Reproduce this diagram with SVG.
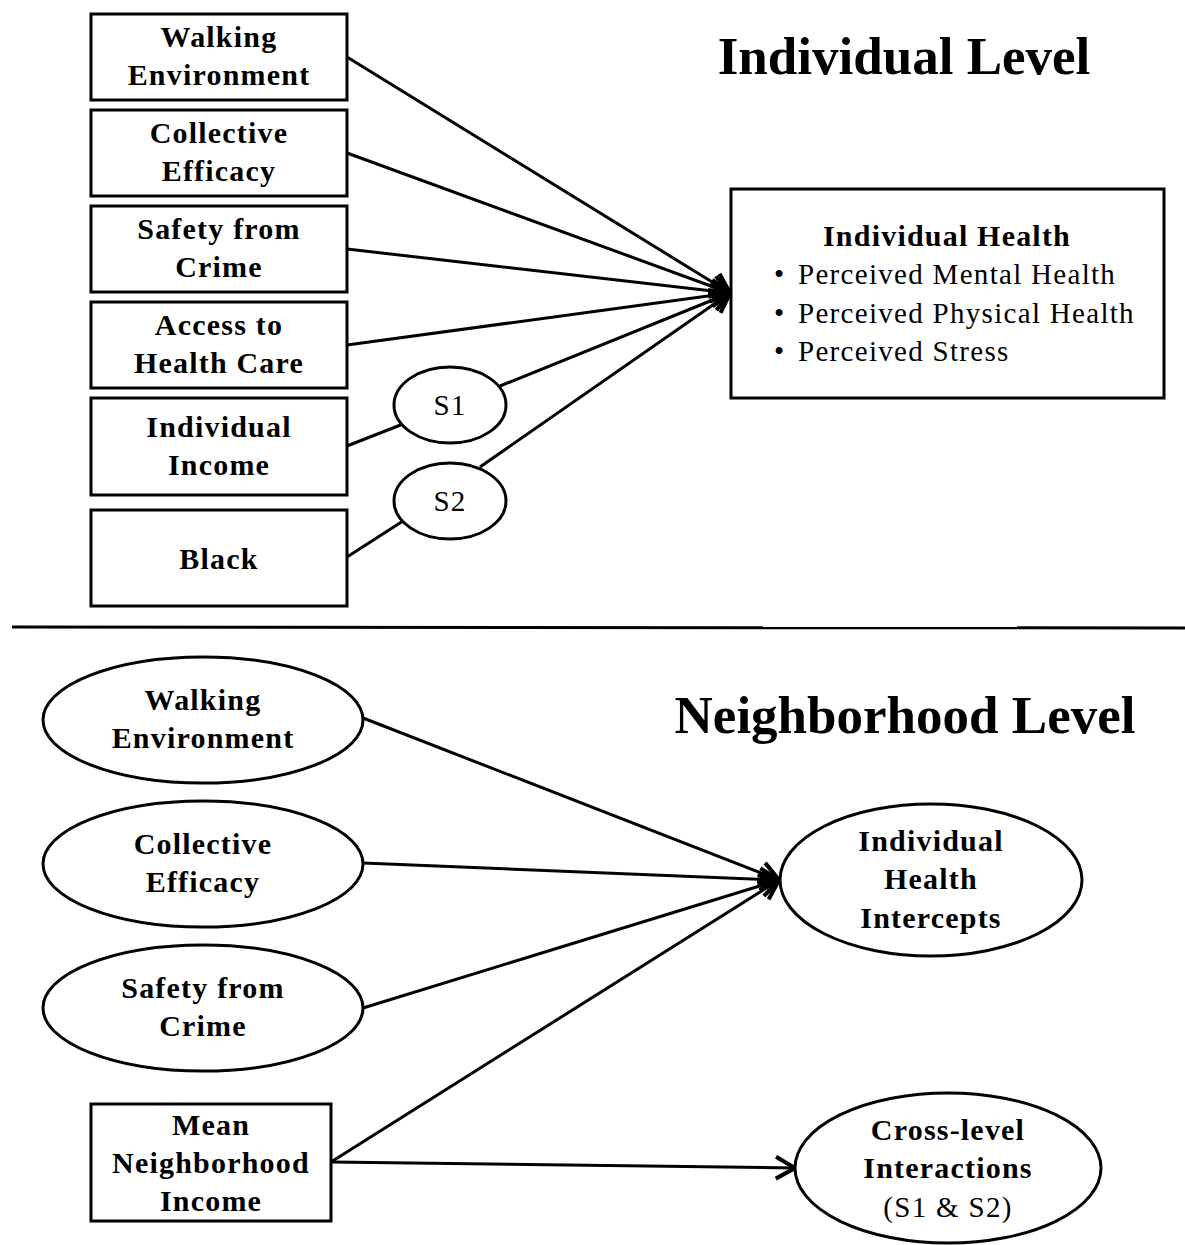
<svg xmlns="http://www.w3.org/2000/svg" width="1185" height="1245" viewBox="0 0 1185 1245">
<style>
.box{fill:#fff;stroke:#000;stroke-width:3}
.b{font-family:"Liberation Serif","Times New Roman",serif;font-weight:bold;font-size:30px;letter-spacing:1.2px;text-anchor:middle;fill:#000}
.r{font-family:"Liberation Serif","Times New Roman",serif;font-size:29px;letter-spacing:1.3px;fill:#000}
.t{font-family:"Liberation Serif","Times New Roman",serif;font-weight:bold;font-size:53px;text-anchor:middle;fill:#000}
.c{stroke:#000;stroke-width:3;fill:none}
</style>
<defs>
<marker id="ah" markerUnits="userSpaceOnUse" markerWidth="30" markerHeight="30" refX="20" refY="10" orient="auto" viewBox="0 0 22 20">
<path d="M6,2 L20,10 L6,18" fill="none" stroke="#000" stroke-width="3"/>
</marker>
</defs>
<rect width="1185" height="1245" fill="#fff"/>
<text class="t" x="904" y="74">Individual Level</text>
<text class="t" x="905" y="733">Neighborhood Level</text>
<line x1="12" y1="627" x2="1185" y2="628" stroke="#000" stroke-width="3"/>
<g id="connectors">
<line class="c" x1="347" y1="57" x2="730" y2="293" marker-end="url(#ah)"/>
<line class="c" x1="347" y1="153" x2="730" y2="293" marker-end="url(#ah)"/>
<line class="c" x1="347" y1="249" x2="730" y2="293" marker-end="url(#ah)"/>
<line class="c" x1="347" y1="345" x2="730" y2="293" marker-end="url(#ah)"/>
<line class="c" x1="500" y1="386" x2="730" y2="293" marker-end="url(#ah)"/>
<line class="c" x1="480" y1="467" x2="730" y2="293" marker-end="url(#ah)"/>
<line class="c" x1="347" y1="446" x2="403" y2="424"/>
<line class="c" x1="347" y1="557" x2="403" y2="521"/>
<line class="c" x1="363" y1="718" x2="779" y2="880" marker-end="url(#ah)"/>
<line class="c" x1="363" y1="863" x2="779" y2="880" marker-end="url(#ah)"/>
<line class="c" x1="363" y1="1008" x2="779" y2="880" marker-end="url(#ah)"/>
<line class="c" x1="331" y1="1162" x2="779" y2="880" marker-end="url(#ah)"/>
<line class="c" x1="331" y1="1162" x2="795" y2="1168" marker-end="url(#ah)"/>
</g>
<g id="walking-ind"><rect class="box" x="91" y="14" width="256" height="86"/><text class="b" x="219" y="47">Walking</text><text class="b" x="219" y="85">Environment</text></g>
<g id="collective-ind"><rect class="box" x="91" y="110" width="256" height="86"/><text class="b" x="219" y="143">Collective</text><text class="b" x="219" y="181">Efficacy</text></g>
<g id="safety-ind"><rect class="box" x="91" y="206" width="256" height="86"/><text class="b" x="219" y="239">Safety from</text><text class="b" x="219" y="277">Crime</text></g>
<g id="access-ind"><rect class="box" x="91" y="302" width="256" height="86"/><text class="b" x="219" y="335">Access to</text><text class="b" x="219" y="373">Health Care</text></g>
<g id="income-ind"><rect class="box" x="91" y="398" width="256" height="97"/><text class="b" x="219" y="437">Individual</text><text class="b" x="219" y="475">Income</text></g>
<g id="black"><rect class="box" x="91" y="510" width="256" height="96"/><text class="b" x="219" y="569">Black</text></g>
<g id="s1"><ellipse class="box" cx="450" cy="405" rx="56" ry="38"/><text class="r" x="450" y="415" text-anchor="middle">S1</text></g>
<g id="s2"><ellipse class="box" cx="450" cy="501" rx="56" ry="38"/><text class="r" x="450" y="511" text-anchor="middle">S2</text></g>
<g id="ind-health"><rect class="box" x="731" y="189" width="433" height="209"/>
<text class="b" x="947" y="246">Individual Health</text>
<text class="r" x="774" y="284">•</text><text class="r" x="798" y="284">Perceived Mental Health</text>
<text class="r" x="774" y="323">•</text><text class="r" x="798" y="323">Perceived Physical Health</text>
<text class="r" x="774" y="361">•</text><text class="r" x="798" y="361">Perceived Stress</text></g>
<g id="walking-nb"><ellipse class="box" cx="203" cy="720" rx="160" ry="63"/><text class="b" x="203" y="710">Walking</text><text class="b" x="203" y="748">Environment</text></g>
<g id="collective-nb"><ellipse class="box" cx="203" cy="864" rx="160" ry="63"/><text class="b" x="203" y="854">Collective</text><text class="b" x="203" y="892">Efficacy</text></g>
<g id="safety-nb"><ellipse class="box" cx="203" cy="1008" rx="160" ry="63"/><text class="b" x="203" y="998">Safety from</text><text class="b" x="203" y="1036">Crime</text></g>
<g id="mean-income"><rect class="box" x="91" y="1104" width="240" height="117"/><text class="b" x="211" y="1135">Mean</text><text class="b" x="211" y="1173">Neighborhood</text><text class="b" x="211" y="1211">Income</text></g>
<g id="intercepts"><ellipse class="box" cx="931" cy="880" rx="151" ry="76"/><text class="b" x="931" y="851">Individual</text><text class="b" x="931" y="889">Health</text><text class="b" x="931" y="928">Intercepts</text></g>
<g id="cross"><ellipse class="box" cx="948" cy="1168" rx="153" ry="75"/><text class="b" x="948" y="1140">Cross-level</text><text class="b" x="948" y="1178">Interactions</text><text class="r" x="948" y="1217" text-anchor="middle">(S1 &amp; S2)</text></g>
</svg>
